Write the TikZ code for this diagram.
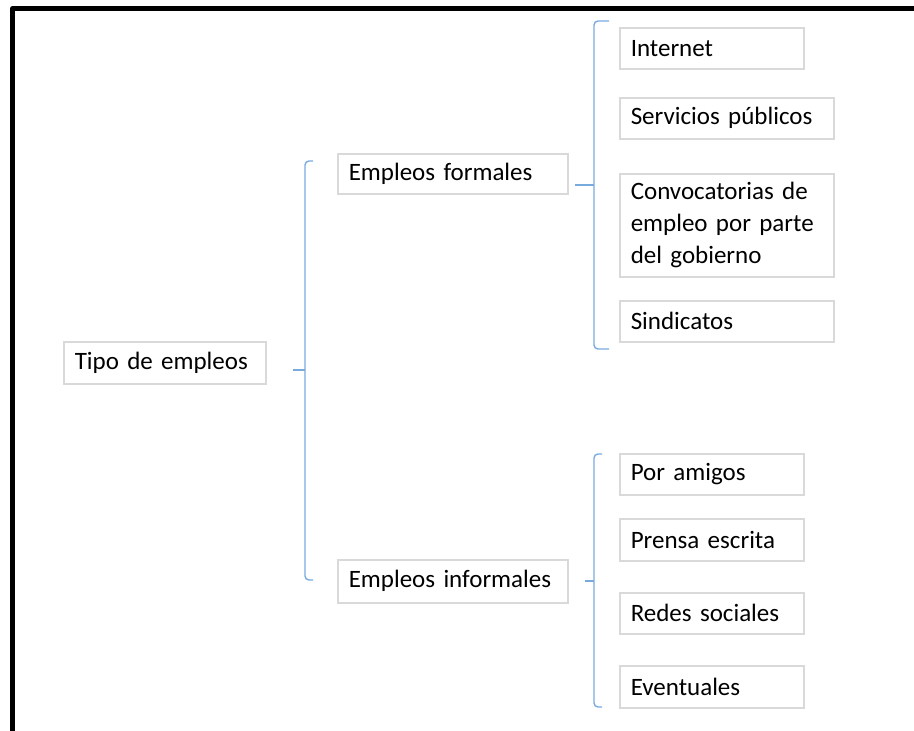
\documentclass[tikz,border=0pt]{standalone}
\usepackage{fontspec}
\setmainfont{Carlito}
\usepackage{tikz}
\usetikzlibrary{positioning}
\definecolor{boxgray}{RGB}{217,217,217}
\definecolor{braceblue}{RGB}{120,170,222}

\begin{document}
\begin{tikzpicture}[
        x=1pt, y=-1pt,
        box/.style={draw=boxgray, line width=1.5pt, anchor=north west,
            inner xsep=11pt, inner ysep=0pt, align=left,
            font=\fontsize{25}{32}\selectfont},
        brace/.style={draw=braceblue, line width=1.4pt, rounded corners=4pt}
    ]
        \useasboundingbox (0,0) rectangle (914,731);
        % frame
        \draw[line width=5pt, line join=round] (12.5,731) -- (12.5,8.5) -- (914,8.5);

        % boxes
        \node[box, text width=180pt, minimum height=42pt] (tipo) at (63,341) {Tipo de empleos};
        \node[box, text width=208pt, minimum height=40pt] (formales) at (337,153) {Empleos formales};
        \node[box, text width=208pt, minimum height=43pt] (informales) at (337,559) {Empleos informales};

        \node[box, text width=162pt, minimum height=41pt] (internet) at (619,27) {Internet};
        \node[box, text width=192pt, minimum height=41pt] (servicios) at (619,97) {Servicios públicos};
        \node[box, text width=192pt, minimum height=103pt] (convocatorias) at (619,173)
            {Convocatorias de\\empleo por parte\\del gobierno};
        \node[box, text width=192pt, minimum height=41pt] (sindicatos) at (619,300) {Sindicatos};

        \node[box, text width=162pt, minimum height=41pt] (amigos) at (619,453) {Por amigos};
        \node[box, text width=162pt, minimum height=42pt] (prensa) at (619,518) {Prensa escrita};
        \node[box, text width=162pt, minimum height=41pt] (redes) at (619,592) {Redes sociales};
        \node[box, text width=162pt, minimum height=42pt] (eventuales) at (619,665) {Eventuales};

        % brackets
        \coordinate (tipoTop) at (313,161);
        \coordinate (tipoBot) at (313,580);
        \coordinate (tipoTick) at (293,370);
        \draw[brace] (tipoTop) -- (305,161) -- (305,580) -- (tipoBot);
        \draw[braceblue, line width=1.4pt] (tipoTick) -- (305,370);

        \coordinate (formTop) at (609,21);
        \coordinate (formBot) at (609,349);
        \coordinate (formTick) at (575,185);
        \draw[brace] (formTop) -- (594,21) -- (594,349) -- (formBot);
        \draw[braceblue, line width=1.4pt] (formTick) -- (594,185);

        \coordinate (infTop) at (602,454);
        \coordinate (infBot) at (602,707);
        \coordinate (infTick) at (585,581);
        \draw[brace] (infTop) -- (594,454) -- (594,707) -- (infBot);
        \draw[braceblue, line width=1.4pt] (infTick) -- (594,581);
    \end{tikzpicture}
\end{document}
